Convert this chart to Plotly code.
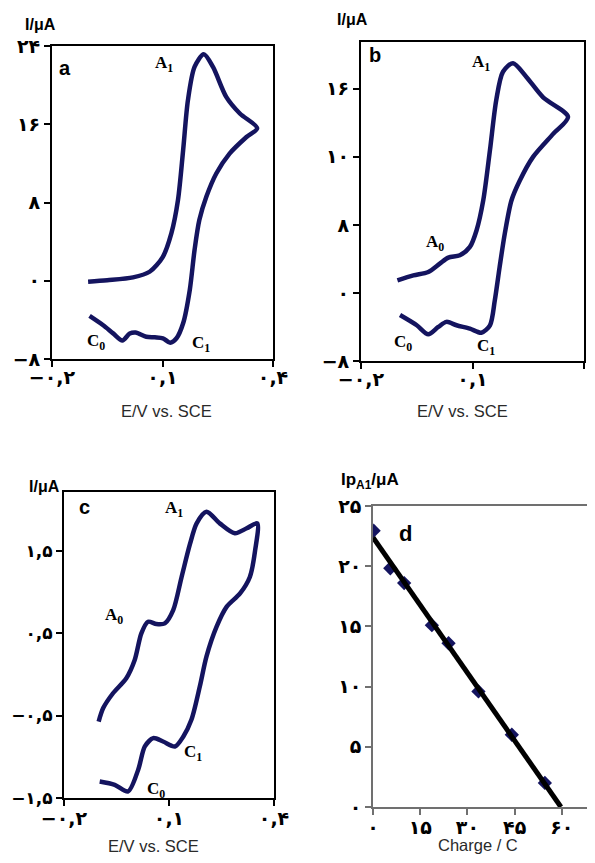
import plotly.graph_objects as go
import numpy as np

# ---------------- data ----------------
# Panel a
a_E = [-0.102, -0.05, 0.02, 0.065, 0.101, 0.124, 0.142, 0.156, 0.169, 0.187, 0.212, 0.237, 0.273, 0.31, 0.357,
       0.328, 0.282, 0.246, 0.219, 0.2, 0.187, 0.174, 0.156, 0.138, 0.121, 0.101, 0.079, 0.056, 0.027, 0.011,
       -0.009, -0.034, -0.062, -0.098]
a_I = [-0.1, 0.05, 0.34, 0.92, 2.45, 4.84, 8.24, 13.35, 18.45, 21.86, 23.15, 21.86, 18.8, 17.1, 15.6,
       14.7, 13.0, 10.96, 8.58, 6.2, 3.13, -0.95, -4.35, -5.88, -6.33, -5.88, -5.78, -5.72, -5.3, -5.4,
       -6.1, -5.38, -4.53, -3.6]

# Panel b
b_E = [-0.102, -0.059, -0.019, 0.012, 0.035, 0.066, 0.093, 0.111, 0.129, 0.147, 0.164, 0.182, 0.209, 0.245,
       0.29, 0.357, 0.317, 0.263, 0.227, 0.205, 0.187, 0.173, 0.16, 0.147, 0.124, 0.093, 0.057, 0.03, 0.008,
       -0.019, -0.05, -0.095]
b_I = [1.49, 2.07, 2.47, 3.45, 4.15, 4.43, 5.41, 7.37, 10.9, 16.8, 22.7, 26.0, 27.0, 25.4,
       23.0, 20.7, 18.7, 16.0, 13.2, 10.9, 7.0, 3.05, -0.87, -3.8, -4.67, -4.2, -3.8, -3.4, -4.0,
       -4.86, -3.8, -2.6]

# Panel c
c_E = [-0.101, -0.088, -0.06, -0.022, 0.002, 0.021, 0.04, 0.064, 0.088, 0.112, 0.136, 0.16, 0.179, 0.207,
       0.245, 0.288, 0.322, 0.352, 0.346, 0.331, 0.303, 0.265, 0.236, 0.207, 0.188, 0.164, 0.141, 0.117,
       0.083, 0.055, 0.031, 0.012, -0.017, -0.055, -0.098]
c_I = [-0.573, -0.41, -0.23, -0.048, 0.173, 0.496, 0.637, 0.609, 0.617, 0.778, 1.18, 1.58, 1.83, 1.97,
       1.83, 1.71, 1.77, 1.83, 1.5, 1.18, 0.98, 0.82, 0.577, 0.214, -0.149, -0.552, -0.754, -0.875,
       -0.815, -0.774, -0.875, -1.157, -1.42, -1.34, -1.3]

# Panel d
d_Q = [0.2, 5.5, 9.9, 18.7, 24.0, 33.5, 44.1, 54.6]
d_Ip = [22.95, 19.83, 18.6, 15.1, 13.6, 9.6, 6.0, 2.0]

# tick labels
cv_x_vals = [-0.2, 0.1, 0.4]
cv_x_text = ["\u2212\u06f0,\u06f2", "\u06f0,\u06f1", "\u06f0,\u06f4"]
a_y_vals = [-8, 0, 8, 16, 24]
a_y_text = ["\u2212\u06f8", "\u06f0", "\u06f8", "\u06f1\u06f6", "\u06f2\u06f4"]
b_y_vals = [-8, 0, 8, 16, 24]
b_y_text = ["\u2212\u06f8", "\u06f0", "\u06f8", "\u06f1\u06f0", "\u06f1\u06f6"]
c_y_vals = [-1.5, -0.5, 0.5, 1.5]
c_y_text = ["\u2212\u06f1,\u06f5", "\u2212\u06f0,\u06f5", "\u06f0,\u06f5", "\u06f1,\u06f5"]
d_x_vals = [0, 15, 30, 45, 60]
d_x_text = ["\u06f0", "\u06f1\u06f5", "\u06f3\u06f0", "\u06f4\u06f5", "\u06f6\u06f0"]
d_y_vals = [0, 5, 10, 15, 20, 25]
d_y_text = ["\u06f0", "\u06f5", "\u06f1\u06f0", "\u06f1\u06f5", "\u06f2\u06f0", "\u06f2\u06f5"]

# ---------------- figure ----------------
NAVY = "#14145f"
OFF = 8                      # default page body margin
W, H = 595 - OFF, 863 - 2 * OFF
fig = go.Figure()

def px(x):
    return min(1.0, max(0.0, (x - OFF) / W))

def py(y):
    return min(1.0, max(0.0, 1 - (y - OFF) / H))

cv_line = dict(color=NAVY, width=4.5, shape="spline", smoothing=0.8)
fig.add_trace(go.Scatter(x=a_E, y=a_I, mode="lines", line=cv_line, xaxis="x", yaxis="y"))
fig.add_trace(go.Scatter(x=b_E, y=b_I, mode="lines", line=cv_line, xaxis="x2", yaxis="y2"))
fig.add_trace(go.Scatter(x=c_E, y=c_I, mode="lines", line=cv_line, xaxis="x3", yaxis="y3"))

# panel d: points + linear fit
slope, icpt = np.polyfit(d_Q, d_Ip, 1)
fit_x = np.array([0.0, -icpt / slope])
fit_y = slope * fit_x + icpt
fig.add_trace(go.Scatter(x=d_Q, y=d_Ip, mode="markers",
                         marker=dict(symbol="diamond", size=11, color=NAVY),
                         xaxis="x4", yaxis="y4"))
fig.add_trace(go.Scatter(x=fit_x, y=fit_y, mode="lines", line=dict(color="black", width=5),
                         xaxis="x4", yaxis="y4"))

def tick_font(size=19):
    return dict(family="DejaVu Sans", size=size, color="black", weight="bold")

def axis(domain, rng, vals, text, anchor, lc="black", lw=2, standoff=0, fs=19):
    return dict(domain=domain, range=rng, tickvals=vals, ticktext=text, anchor=anchor,
                showline=True, mirror=True, linecolor=lc, linewidth=lw, ticks="outside",
                ticklen=6, tickwidth=lw, tickcolor=lc, showgrid=False, zeroline=False,
                tickfont=tick_font(fs), fixedrange=True, automargin=False,
                ticklabelstandoff=standoff)

fig.update_layout(
    template="none",
    width=W, height=H, margin=dict(l=0, r=0, t=0, b=0, autoexpand=False),
    paper_bgcolor="white", plot_bgcolor="white", showlegend=False,
    xaxis=axis([px(52), px(273)], [-0.2, 0.4], cv_x_vals, cv_x_text, "y", standoff=-6),
    yaxis=axis([py(359), py(46)], [-8, 24], a_y_vals, a_y_text, "x"),
    xaxis2=axis([px(361), px(584)], [-0.2, 0.4], cv_x_vals, cv_x_text, "y2", standoff=-6),
    yaxis2=axis([py(361), py(42)], [-8, 29.5], b_y_vals, b_y_text, "x2"),
    xaxis3=axis([px(64), px(274)], [-0.2, 0.4], cv_x_vals, cv_x_text, "y3", standoff=-4),
    yaxis3=axis([py(798), py(492)], [-1.5, 2.21], c_y_vals, c_y_text, "x3", fs=17),
    xaxis4=axis([px(373), px(588)], [0, 68.3], d_x_vals, d_x_text, "y4", lc="#707070", lw=1.5, standoff=-4),
    yaxis4=axis([py(807), py(506)], [0, 25], d_y_vals, d_y_text, "x4", lc="#707070", lw=1.5),
)

anns = []
def txt(x, y, s, size=14, family="Liberation Sans", bold=False, color="black"):
    anns.append(dict(x=px(x), y=py(y), xref="paper", yref="paper", text=s, showarrow=False,
                     xanchor="center", yanchor="middle",
                     font=dict(family=family, size=size, color=color, weight="bold" if bold else "normal")))

# axis titles
txt(40, 25, "I/\u03bcA", 16, bold=True)
txt(352, 20, "I/\u03bcA", 16, bold=True)
txt(45, 487, "I/\u03bcA", 16, bold=True)
txt(370, 481, "Ip<sub>A1</sub>/\u03bcA", 17, bold=True)
txt(166, 411, "E/V vs. SCE", 16.5, color="#2a2a2a")
txt(462, 411, "E/V vs. SCE", 16.5, color="#2a2a2a")
txt(153, 846, "E/V vs. SCE", 16.5, color="#2a2a2a")
txt(478, 845, "Charge / C", 16.5, color="#2a2a2a")

# panel labels
txt(65, 68, "a", 20, bold=True)
txt(375, 55, "b", 20, bold=True)
txt(84, 507, "c", 20, bold=True)
txt(405, 533, "d", 22, bold=True)

SERIF = "Liberation Serif"
txt(164, 64, "A<sub>1</sub>", 17, SERIF, True)
txt(96, 342, "C<sub>0</sub>", 17, SERIF, True)
txt(201, 344, "C<sub>1</sub>", 17, SERIF, True)

txt(481, 63, "A<sub>1</sub>", 17, SERIF, True)
txt(435, 243, "A<sub>0</sub>", 17, SERIF, True)
txt(403, 343, "C<sub>0</sub>", 17, SERIF, True)
txt(486, 347, "C<sub>1</sub>", 17, SERIF, True)

txt(174, 509, "A<sub>1</sub>", 17, SERIF, True)
txt(114, 616, "A<sub>0</sub>", 17, SERIF, True)
txt(193, 753, "C<sub>1</sub>", 17, SERIF, True)
txt(156, 790, "C<sub>0</sub>", 17, SERIF, True)

fig.update_layout(annotations=anns)
fig.write_html("out.html")
